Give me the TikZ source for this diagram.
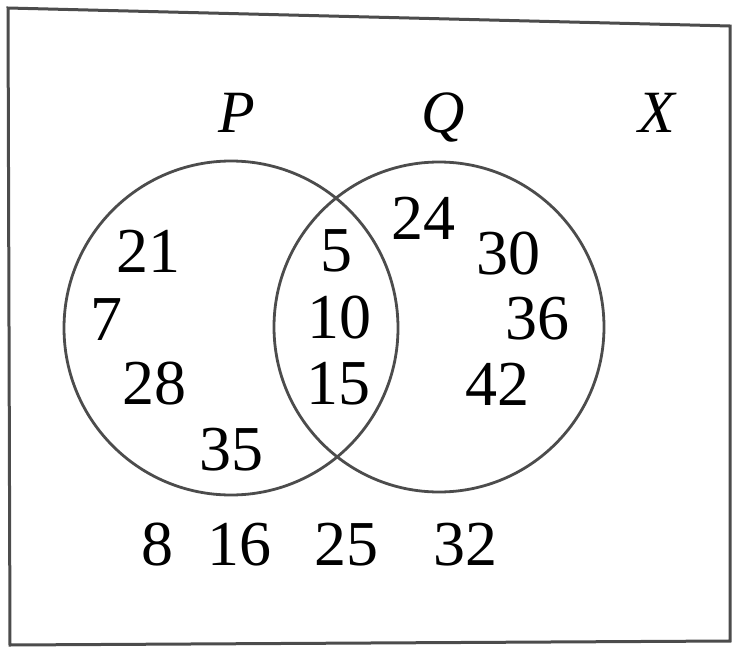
\documentclass[tikz,border=0pt]{standalone}
\usepackage{fontspec}
\setmainfont{Liberation Serif}
\begin{document}
\begin{tikzpicture}[x=1pt,y=-1pt,
  setline/.style={draw=black!70,line width=2.8pt},
  num/.style={inner sep=0pt,anchor=center,font=\fontsize{64}{64}\selectfont},
  lab/.style={inner sep=0pt,anchor=base,font=\fontsize{60}{60}\selectfont\itshape}]
\useasboundingbox (0,0) rectangle (732,648);
% universal set border
\coordinate (c1) at (8,8);
\coordinate (c2) at (730,26);
\coordinate (c3) at (730,641);
\coordinate (c4) at (10,645);
\draw[setline,line width=3pt] (c1) -- (c2) -- (c3) -- (c4) -- cycle;
% circles
\coordinate (pc) at (231,328);
\coordinate (qc) at (439,327);
\draw[setline] (pc) circle[radius=167];
\draw[setline] (qc) circle[radius=165];
% labels
\node[lab] (lP) at (237,132) {P};
\node[lab] (lQ) at (443,132) {Q};
\node[lab] (lX) at (657,132) {X};
% P only
\node[num] (n21) at (148,251) {21};
\node[num] (n7)  at (106,320) {7};
\node[num] (n28) at (154,384) {28};
\node[num] (n35) at (231,450) {35};
% intersection
\node[num] (n5)  at (336,251) {5};
\node[num] (n10) at (339,318) {10};
\node[num] (n15) at (338,384) {15};
% Q only
\node[num] (n24) at (423,218) {24};
\node[num] (n30) at (508,254) {30};
\node[num] (n36) at (537,319) {36};
\node[num] (n42) at (497,384) {42};
% outside
\node[num] (n8)  at (157,545) {8};
\node[num] (n16) at (239,545) {16};
\node[num] (n25) at (346,545) {25};
\node[num] (n32) at (465,545) {32};
\end{tikzpicture}
\end{document}
